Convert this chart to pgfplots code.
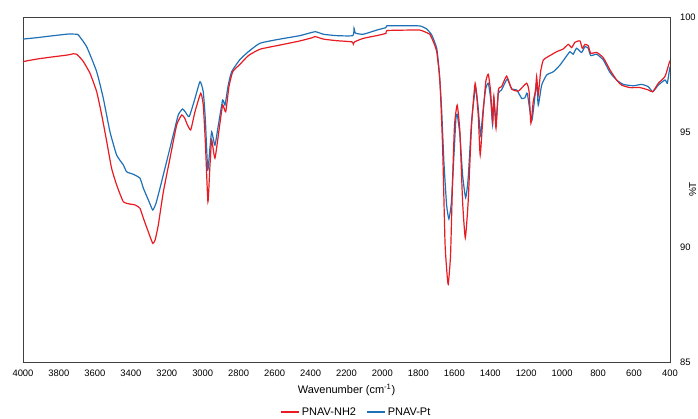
\documentclass[border=0pt]{standalone}
\usepackage{fontspec}
\setmainfont{Liberation Sans}
\usepackage{pgfplots}
\pgfplotsset{compat=1.18}
\definecolor{cred}{RGB}{232,26,34}
\definecolor{cblue}{RGB}{31,113,183}
\begin{document}
\begin{tikzpicture}
\begin{axis}[
  name=ax, at={(0pt,0pt)}, anchor=south west,
  width=647pt, height=345pt, scale only axis,
  x dir=reverse, xmin=400, xmax=4000, ymin=85, ymax=100,
  xtick={400,600,...,4000}, ytick={85,90,95,100},
  yticklabel pos=right,
  major tick length=0pt,
  axis line style={black!75, line width=0.8pt},
  ticklabel style={font=\fontsize{9.4}{11}\selectfont},
  /pgf/number format/assume math mode=true,
  /pgf/number format/1000 sep={},
  xticklabel style={anchor=base, yshift=-14.7pt},
  yticklabel style={anchor=west, xshift=6.5pt},
  xlabel={Wavenumber (cm\textsuperscript{-1})},
  xlabel style={at={(axis description cs:0.5,0)}, anchor=base, yshift=-31.3pt, font=\fontsize{11}{13}\selectfont},
  legend columns=2,
  legend style={at={(axis description cs:0.5155,-0.1449)}, anchor=center, draw=none, fill=none,
    font=\fontsize{11}{13}\selectfont, /tikz/every even column/.append style={column sep=8.5pt}},
  legend image code/.code={\draw[mark repeat=2,mark phase=2,#1] plot coordinates {(0pt,0pt) (18pt,0pt)};},
]
\addlegendimage{color=cred, line width=1.2pt}
\addlegendentry{PNAV-NH2}
\addlegendimage{color=cblue, line width=1.2pt}
\addlegendentry{PNAV-Pt}

\addplot[color=cblue, line width=1.2pt, smooth, tension=0.3, forget plot] coordinates {
(4000,99.04) (3924,99.10) (3850,99.17) (3760,99.25) (3738,99.26) (3700,99.25) (3692,99.22)
(3646,98.71) (3590,97.62) (3553,96.46) (3516,95.01) (3479,94.00) (3442,93.57) (3423,93.27)
(3386,93.16) (3349,92.99) (3330,92.55) (3300,92.00) (3278,91.61) (3260,91.90) (3238,92.55)
(3201,93.71) (3164,94.87) (3136,95.74) (3112,96.00) (3095,95.85) (3075,95.67) (3043,96.46)
(3015,97.19) (2997,96.75) (2985,95.50) (2972,93.35) (2960,94.30) (2950,95.01) (2932,94.43)
(2913,95.30) (2889,96.39) (2876,96.17) (2858,97.04) (2839,97.62) (2793,98.15) (2746,98.49)
(2681,98.86) (2570,99.04) (2459,99.19) (2375,99.36) (2329,99.25) (2255,99.19) (2165,99.19)
(2158,99.51) (2150,99.30) (2107,99.25) (2032,99.43) (1980,99.54) (1975,99.62) (1865,99.62)
(1791,99.61) (1754,99.48) (1726,99.22) (1698,98.64) (1684,97.62) (1671,96.03) (1658,93.71)
(1643,91.83) (1630,91.22) (1616,91.97) (1602,94.00) (1591,95.59) (1584,95.77) (1569,94.87)
(1554,93.13) (1537,92.14) (1523,92.99) (1504,95.45) (1482,96.93) (1467,96.03) (1454,94.87)
(1439,96.03) (1425,96.90) (1411,97.12) (1398,96.46) (1387,95.30) (1380,96.46) (1368,95.45)
(1355,96.68) (1337,96.83) (1306,97.30) (1281,96.87) (1253,96.83) (1225,96.46) (1207,96.49)
(1194,96.68) (1170,95.48) (1157,96.17) (1142,97.19) (1133,96.17) (1114,97.04) (1086,97.48)
(1049,97.62) (1012,97.91) (985,98.20) (957,98.49) (939,98.38) (920,98.64) (892,98.46)
(873,98.71) (855,98.64) (841,98.32) (808,98.38) (771,98.13) (734,97.59) (697,97.26)
(660,97.07) (604,97.01) (558,97.07) (521,96.97) (496,96.75) (465,97.04) (428,97.26)
(415,97.12) (405,97.60) (400,97.84)
};
\addplot[color=cred, line width=1.2pt, smooth, tension=0.3, forget plot] coordinates {
(4000,98.06) (3924,98.17) (3850,98.25) (3750,98.35) (3720,98.40) (3701,98.38) (3690,98.30)
(3664,98.06) (3627,97.55) (3590,96.75) (3562,95.74) (3534,94.58) (3507,93.42) (3479,92.70)
(3460,92.30) (3442,91.97) (3423,91.90) (3400,91.86) (3377,91.83) (3349,91.68) (3330,91.25)
(3300,90.60) (3278,90.16) (3265,90.30) (3247,90.96) (3219,92.40) (3182,93.86) (3145,95.30)
(3117,95.74) (3100,95.60) (3089,95.38) (3067,95.09) (3043,95.88) (3011,96.68) (2997,96.17)
(2985,94.50) (2971,91.97) (2960,93.50) (2950,94.65) (2932,93.86) (2908,95.16) (2889,96.17)
(2872,95.88) (2854,96.97) (2833,97.62) (2793,97.94) (2746,98.32) (2681,98.60) (2570,98.78)
(2459,98.96) (2390,99.10) (2375,99.15) (2329,99.04) (2255,98.97) (2170,98.92) (2162,98.82)
(2155,98.92) (2107,99.07) (2032,99.19) (1980,99.29) (1975,99.41) (1865,99.43) (1791,99.43)
(1745,99.29) (1736,99.25) (1717,98.93) (1698,98.49) (1680,97.19) (1665,94.29) (1652,90.23)
(1643,89.07) (1634,88.38) (1621,89.65) (1610,92.84) (1599,95.30) (1584,96.17) (1569,95.01)
(1554,91.97) (1539,90.40) (1523,91.97) (1504,95.30) (1484,97.12) (1467,95.74) (1456,94.00)
(1439,95.88) (1425,97.19) (1411,97.51) (1398,96.75) (1387,95.45) (1380,96.54) (1368,95.16)
(1355,96.83) (1337,96.97) (1309,97.43) (1281,96.87) (1243,96.78) (1198,97.12) (1184,96.75)
(1174,95.38) (1161,96.32) (1148,96.80) (1142,97.41) (1133,96.61) (1120,97.62) (1105,98.13)
(1077,98.28) (1031,98.49) (994,98.61) (966,98.81) (947,98.67) (929,98.90) (901,98.96)
(888,98.64) (873,98.81) (855,98.75) (841,98.42) (808,98.46) (771,98.23) (734,97.70)
(697,97.26) (669,97.04) (623,96.93) (567,96.93) (521,96.83) (496,96.75) (465,97.12)
(428,97.41) (405,97.99) (400,98.10)
};
\end{axis}
\node[rotate=90, anchor=base, font=\fontsize{10}{12}\selectfont] at (673pt,172.5pt) {\%T};
\pgfresetboundingbox
\path[use as bounding box] (-23pt,-57pt) rectangle (675pt,362pt);
\end{tikzpicture}
\end{document}
